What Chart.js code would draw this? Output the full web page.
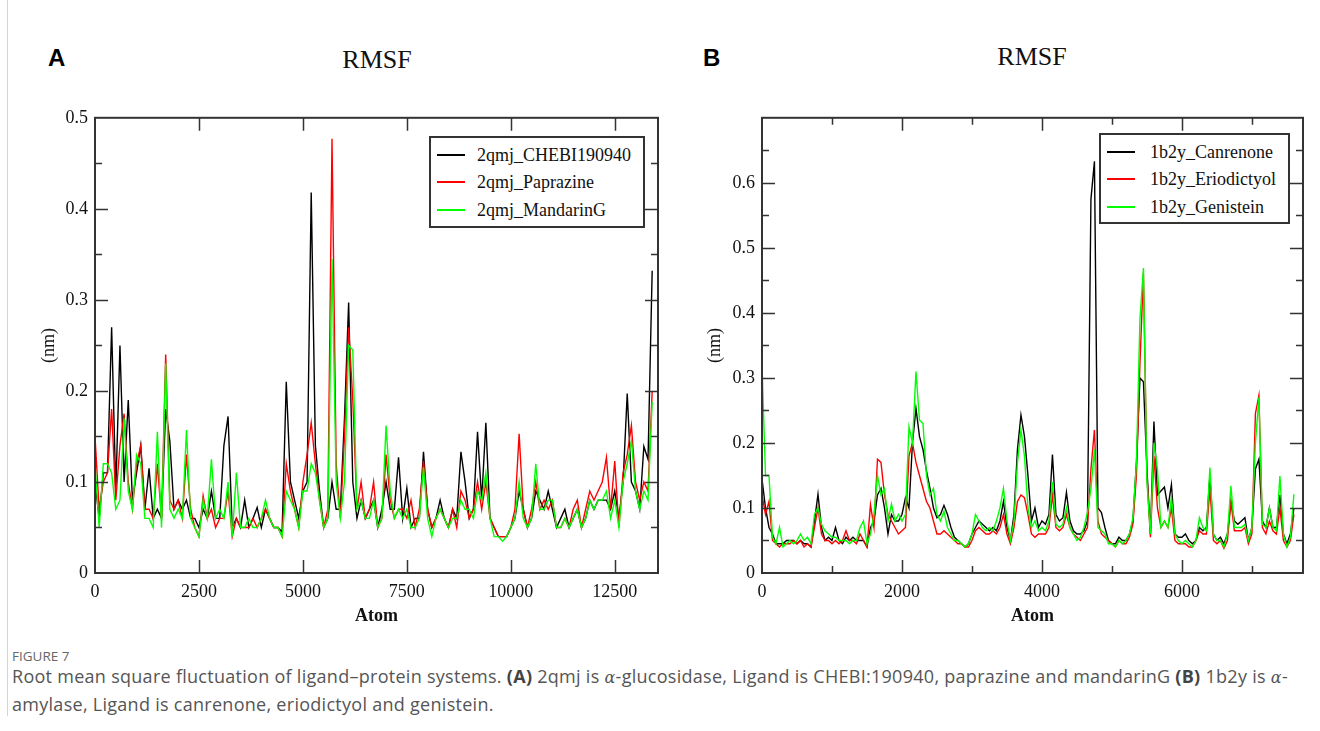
<!DOCTYPE html>
<html>
<head>
<meta charset="utf-8">
<script src="https://cdn.jsdelivr.net/npm/chart.js@4.4.0/dist/chart.umd.min.js"></script>
<style>
  body { margin: 0; background: #fff; }
  #page { position: relative; width: 1320px; height: 731px; overflow: hidden; background: #fff; font-family: "Liberation Serif", "Times New Roman", serif; }
  .rule { position: absolute; left: 7px; top: 0; width: 1px; height: 716px; background: #d4d4d4; }
  .letter { position: absolute; font: bold 24px "Liberation Sans", Arial, sans-serif; line-height: 24px; color: #000; }
  .title { position: absolute; width: 200px; text-align: center; font-size: 26px; line-height: 26px; color: #111; }
  canvas { position: absolute; }
  .legend { position: absolute; border: 2px solid #333; background: #fff; box-sizing: border-box; }
  .legend .row { position: absolute; left: 0; height: 20px; line-height: 20px; font-size: 18px; white-space: nowrap; color: #111; }
  .legend .swatch { position: absolute; left: 6px; top: 9px; width: 28px; height: 2px; }
  .legend .label { position: absolute; top: 0; }
  .fig { position: absolute; font: 13.5px "Open Sans", sans-serif; line-height: 14px; color: #666; }
  .cap { position: absolute; font: 18px "Open Sans", sans-serif; line-height: 27px; color: #555; white-space: nowrap; letter-spacing: 0.28px; }
  .cap b { color: #444; }
  .cap i { font-family: "DejaVu Serif", serif; font-size: 16px; }
</style>
</head>
<body>
<div id="page">
  <div class="rule"></div>

  <div class="letter" style="left:48px; top:46px;">A</div>
  <div class="title" style="left:277px; top:47px;">RMSF</div>
  <canvas id="chartA" width="680" height="540" style="left:0; top:100px;"></canvas>
  <div class="legend" style="left:429px; top:136px; width:216px; height:92px;">
    <div class="row" style="top:7px;"><span class="swatch" style="background:#000;"></span><span class="label" style="left:46px;">2qmj_CHEBI190940</span></div>
    <div class="row" style="top:34px;"><span class="swatch" style="background:#ff0000;"></span><span class="label" style="left:46px;">2qmj_Paprazine</span></div>
    <div class="row" style="top:62px;"><span class="swatch" style="background:#00ff00;"></span><span class="label" style="left:46px;">2qmj_MandarinG</span></div>
  </div>

  <div class="letter" style="left:703px; top:46px;">B</div>
  <div class="title" style="left:932px; top:44px;">RMSF</div>
  <canvas id="chartB" width="640" height="540" style="left:680px; top:100px;"></canvas>
  <div class="legend" style="left:1099px; top:133px; width:191px; height:91px;">
    <div class="row" style="top:7px;"><span class="swatch" style="background:#000;"></span><span class="label" style="left:49px;">1b2y_Canrenone</span></div>
    <div class="row" style="top:34px;"><span class="swatch" style="background:#ff0000;"></span><span class="label" style="left:49px;">1b2y_Eriodictyol</span></div>
    <div class="row" style="top:62px;"><span class="swatch" style="background:#00ff00;"></span><span class="label" style="left:49px;">1b2y_Genistein</span></div>
  </div>

  <div class="fig" style="left:12px; top:649px;">FIGURE 7</div>
  <div class="cap" style="left:12px; top:663px;">Root mean square fluctuation of ligand–protein systems. <b>(A)</b> 2qmj is <i>α</i>-glucosidase, Ligand is CHEBI:190940, paprazine and mandarinG <b>(B)</b> 1b2y is <i>α</i>-<br>amylase, Ligand is canrenone, eriodictyol and genistein.</div>
</div>

<script>
// Panel A: 2qmj RMSF (nm), one value every 100 atoms, starting at atom 0
const stepA = 100;
const chebi190940 = [
  0.10, 0.06, 0.11, 0.11, 0.27, 0.09, 0.25, 0.10, 0.19, 0.08,
  0.11, 0.14, 0.07, 0.115, 0.06, 0.07, 0.06, 0.18, 0.145, 0.07,
  0.08, 0.07, 0.08, 0.06, 0.06, 0.05, 0.07, 0.06, 0.09, 0.06,
  0.06, 0.14, 0.172, 0.05, 0.06, 0.05, 0.08, 0.05, 0.06, 0.072,
  0.05, 0.07, 0.06, 0.05, 0.05, 0.045, 0.21, 0.10, 0.08, 0.06,
  0.09, 0.10, 0.418, 0.14, 0.09, 0.05, 0.06, 0.10, 0.07, 0.07,
  0.17, 0.297, 0.10, 0.06, 0.08, 0.06, 0.07, 0.08, 0.05, 0.07,
  0.10, 0.07, 0.07, 0.127, 0.06, 0.093, 0.05, 0.06, 0.06, 0.133,
  0.07, 0.05, 0.06, 0.08, 0.06, 0.05, 0.07, 0.06, 0.133, 0.10,
  0.06, 0.07, 0.155, 0.08, 0.165, 0.06, 0.05, 0.04, 0.04, 0.04,
  0.05, 0.06, 0.09, 0.07, 0.05, 0.06, 0.09, 0.08, 0.07, 0.09,
  0.07, 0.05, 0.06, 0.07, 0.05, 0.06, 0.07, 0.05, 0.06, 0.08,
  0.07, 0.08, 0.08, 0.08, 0.07, 0.09, 0.06, 0.10, 0.197, 0.10,
  0.09, 0.07, 0.139, 0.125, 0.332
];
const paprazine = [
  0.15, 0.07, 0.10, 0.11, 0.18, 0.08, 0.14, 0.175, 0.10, 0.07,
  0.12, 0.14, 0.07, 0.07, 0.06, 0.12, 0.06, 0.24, 0.08, 0.07,
  0.08, 0.06, 0.13, 0.07, 0.05, 0.04, 0.085, 0.06, 0.07, 0.05,
  0.06, 0.06, 0.09, 0.04, 0.06, 0.05, 0.05, 0.05, 0.06, 0.05,
  0.06, 0.07, 0.06, 0.05, 0.05, 0.04, 0.12, 0.09, 0.07, 0.05,
  0.10, 0.13, 0.165, 0.12, 0.08, 0.05, 0.07, 0.477, 0.12, 0.06,
  0.15, 0.27, 0.19, 0.07, 0.10, 0.06, 0.07, 0.10, 0.05, 0.06,
  0.13, 0.08, 0.06, 0.07, 0.07, 0.06, 0.08, 0.05, 0.07, 0.123,
  0.07, 0.05, 0.06, 0.07, 0.06, 0.05, 0.07, 0.05, 0.09, 0.08,
  0.06, 0.07, 0.10, 0.07, 0.10, 0.06, 0.05, 0.04, 0.04, 0.04,
  0.05, 0.07, 0.153, 0.07, 0.05, 0.07, 0.10, 0.07, 0.08, 0.07,
  0.08, 0.05, 0.05, 0.06, 0.05, 0.07, 0.08, 0.05, 0.07, 0.09,
  0.08, 0.09, 0.10, 0.127, 0.07, 0.123, 0.05, 0.11, 0.13, 0.162,
  0.10, 0.08, 0.10, 0.09, 0.20
];
const mandarinG = [
  0.12, 0.05, 0.12, 0.12, 0.11, 0.07, 0.08, 0.17, 0.09, 0.07,
  0.13, 0.12, 0.06, 0.06, 0.05, 0.155, 0.05, 0.23, 0.07, 0.06,
  0.07, 0.06, 0.157, 0.06, 0.05, 0.04, 0.08, 0.06, 0.125, 0.06,
  0.07, 0.06, 0.10, 0.04, 0.11, 0.05, 0.05, 0.06, 0.05, 0.05,
  0.06, 0.08, 0.06, 0.05, 0.05, 0.04, 0.09, 0.08, 0.07, 0.05,
  0.09, 0.09, 0.12, 0.11, 0.08, 0.05, 0.06, 0.345, 0.10, 0.06,
  0.10, 0.25, 0.245, 0.07, 0.08, 0.06, 0.06, 0.08, 0.05, 0.06,
  0.162, 0.09, 0.06, 0.07, 0.06, 0.07, 0.05, 0.05, 0.06, 0.116,
  0.06, 0.04, 0.06, 0.07, 0.06, 0.05, 0.06, 0.06, 0.08, 0.07,
  0.07, 0.06, 0.09, 0.08, 0.11, 0.06, 0.04, 0.04, 0.035, 0.04,
  0.05, 0.06, 0.10, 0.06, 0.05, 0.06, 0.12, 0.07, 0.07, 0.08,
  0.08, 0.05, 0.05, 0.06, 0.05, 0.06, 0.07, 0.05, 0.06, 0.08,
  0.07, 0.08, 0.08, 0.09, 0.06, 0.08, 0.05, 0.10, 0.12, 0.145,
  0.09, 0.07, 0.09, 0.08, 0.188
];

// Panel B: 1b2y RMSF (nm), one value every 50 atoms, starting at atom 0
const stepB = 50;
const canrenone = [
  0.145, 0.10, 0.07, 0.06, 0.045, 0.045, 0.045, 0.05, 0.05, 0.05,
  0.045, 0.05, 0.045, 0.045, 0.04, 0.08, 0.121, 0.07, 0.05, 0.055,
  0.05, 0.07, 0.05, 0.045, 0.055, 0.05, 0.055, 0.05, 0.05, 0.05,
  0.04, 0.07, 0.08, 0.12, 0.13, 0.10, 0.06, 0.09, 0.08, 0.08,
  0.09, 0.116, 0.10, 0.20, 0.253, 0.21, 0.19, 0.157, 0.13, 0.10,
  0.085, 0.09, 0.104, 0.09, 0.07, 0.055, 0.05, 0.045, 0.04, 0.045,
  0.06, 0.07, 0.08, 0.075, 0.07, 0.065, 0.07, 0.065, 0.08, 0.11,
  0.07, 0.05, 0.09, 0.19, 0.243, 0.21, 0.15, 0.08, 0.10, 0.07,
  0.08, 0.075, 0.09, 0.182, 0.09, 0.08, 0.085, 0.124, 0.08, 0.065,
  0.06, 0.06, 0.065, 0.08, 0.575, 0.633, 0.10, 0.093, 0.07, 0.05,
  0.045, 0.045, 0.055, 0.05, 0.05, 0.06, 0.08, 0.17, 0.30, 0.294,
  0.16, 0.06, 0.233, 0.12, 0.126, 0.132, 0.10, 0.136, 0.06, 0.055,
  0.055, 0.06, 0.05, 0.045, 0.05, 0.07, 0.065, 0.07, 0.15, 0.06,
  0.05, 0.055, 0.045, 0.06, 0.11, 0.08, 0.075, 0.08, 0.085, 0.05,
  0.07, 0.16, 0.175, 0.08, 0.07, 0.10, 0.07, 0.07, 0.12, 0.06,
  0.045, 0.06, 0.10
];
const eriodictyol = [
  0.12, 0.09, 0.11, 0.05, 0.045, 0.04, 0.045, 0.045, 0.045, 0.05,
  0.045, 0.05, 0.04, 0.045, 0.04, 0.07, 0.10, 0.06, 0.05, 0.05,
  0.045, 0.05, 0.045, 0.05, 0.065, 0.05, 0.05, 0.045, 0.06, 0.05,
  0.04, 0.105, 0.07, 0.175, 0.17, 0.12, 0.09, 0.08, 0.07, 0.06,
  0.065, 0.07, 0.18, 0.20, 0.17, 0.15, 0.13, 0.11, 0.10, 0.08,
  0.06, 0.06, 0.065, 0.06, 0.055, 0.05, 0.045, 0.045, 0.04, 0.04,
  0.05, 0.065, 0.07, 0.065, 0.06, 0.06, 0.065, 0.06, 0.07, 0.09,
  0.06, 0.045, 0.07, 0.11, 0.12, 0.116, 0.09, 0.06, 0.055, 0.06,
  0.06, 0.06, 0.07, 0.12, 0.07, 0.065, 0.07, 0.09, 0.07, 0.06,
  0.055, 0.05, 0.06, 0.07, 0.16, 0.22, 0.08, 0.06, 0.055, 0.05,
  0.045, 0.04, 0.05, 0.045, 0.045, 0.055, 0.075, 0.15, 0.322, 0.46,
  0.15, 0.055, 0.18, 0.10, 0.07, 0.08, 0.07, 0.10, 0.05, 0.045,
  0.045, 0.045, 0.04, 0.04, 0.05, 0.065, 0.06, 0.06, 0.13, 0.05,
  0.045, 0.05, 0.038, 0.05, 0.11, 0.065, 0.065, 0.065, 0.07, 0.045,
  0.06, 0.245, 0.273, 0.07, 0.06, 0.08, 0.065, 0.06, 0.10, 0.05,
  0.04, 0.05, 0.09
];
const genistein = [
  0.32, 0.15, 0.15, 0.055, 0.045, 0.07, 0.04, 0.045, 0.05, 0.045,
  0.05, 0.06, 0.05, 0.055, 0.045, 0.09, 0.10, 0.075, 0.065, 0.06,
  0.055, 0.055, 0.05, 0.05, 0.05, 0.045, 0.05, 0.05, 0.07, 0.08,
  0.045, 0.06, 0.09, 0.15, 0.12, 0.13, 0.08, 0.106, 0.08, 0.09,
  0.08, 0.09, 0.225, 0.20, 0.31, 0.235, 0.23, 0.15, 0.12, 0.13,
  0.09, 0.08, 0.095, 0.07, 0.06, 0.05, 0.05, 0.045, 0.04, 0.045,
  0.06, 0.09, 0.08, 0.07, 0.065, 0.07, 0.065, 0.08, 0.10, 0.13,
  0.08, 0.05, 0.08, 0.17, 0.22, 0.18, 0.10, 0.07, 0.08, 0.065,
  0.07, 0.065, 0.08, 0.14, 0.075, 0.07, 0.075, 0.10, 0.07, 0.06,
  0.05, 0.055, 0.07, 0.093, 0.13, 0.19, 0.07, 0.065, 0.06, 0.045,
  0.045, 0.04, 0.05, 0.045, 0.05, 0.06, 0.085, 0.17, 0.39, 0.469,
  0.14, 0.06, 0.20, 0.16, 0.07, 0.08, 0.07, 0.116, 0.06, 0.05,
  0.045, 0.05, 0.045, 0.04, 0.05, 0.085, 0.07, 0.065, 0.162, 0.06,
  0.05, 0.05, 0.04, 0.06, 0.134, 0.07, 0.07, 0.07, 0.075, 0.05,
  0.07, 0.20, 0.27, 0.075, 0.07, 0.10, 0.07, 0.065, 0.149, 0.06,
  0.04, 0.055, 0.121
];

const serif = 'Liberation Serif';

// xmgrace style frame: box all round, ticks pointing inwards on every side
const innerTicks = {
  id: 'innerTicks',
  afterDraw(chart, args, o) {
    const { ctx, chartArea: a } = chart;
    const x = chart.scales.x, y = chart.scales.y;
    ctx.save();
    ctx.strokeStyle = '#333';
    ctx.lineWidth = 1.5;
    ctx.beginPath();
    const xRatio = Math.round(o.xMajor / o.xMinor);
    const nx = Math.floor(x.max / o.xMinor + 1e-9);
    for (let k = 1; k <= nx; k++) {
      const px = Math.round(x.getPixelForValue(k * o.xMinor)) + 0.5;
      if (px > a.right - 3) continue;
      const len = k % xRatio === 0 ? 13 : 7;
      ctx.moveTo(px, a.bottom); ctx.lineTo(px, a.bottom - len);
      ctx.moveTo(px, a.top); ctx.lineTo(px, a.top + len);
    }
    const yRatio = Math.round(o.yMajor / o.yMinor);
    const ny = Math.round(y.max / o.yMinor);
    for (let k = 1; k < ny; k++) {
      const py = Math.round(y.getPixelForValue(k * o.yMinor)) + 0.5;
      const len = k % yRatio === 0 ? 13 : 7;
      ctx.moveTo(a.left, py); ctx.lineTo(a.left + len, py);
      ctx.moveTo(a.right, py); ctx.lineTo(a.right - len, py);
    }
    ctx.stroke();
    ctx.lineWidth = 2;
    ctx.strokeRect(a.left, a.top, a.right - a.left, a.bottom - a.top);
    ctx.restore();
  }
};

function toPoints(values, step) {
  return values.map((v, i) => ({ x: i * step, y: v }));
}

function makeChart(id, series, step, ax) {
  return new Chart(document.getElementById(id), {
    type: 'line',
    data: {
      datasets: series.map(s => ({
        label: s.label,
        data: toPoints(s.values, step),
        borderColor: s.color,
        borderWidth: 1.4,
        pointRadius: 0,
        tension: 0,
        order: s.order
      }))
    },
    options: {
      responsive: false,
      animation: false,
      devicePixelRatio: 1,
      layout: { padding: ax.pad },
      plugins: {
        legend: { display: false },
        tooltip: { enabled: false },
        innerTicks: ax
      },
      scales: {
        x: {
          type: 'linear',
          min: 0,
          max: ax.xMax,
          grid: { display: false, drawTicks: false },
          border: { display: false },
          ticks: {
            padding: 8,
            maxRotation: 0,
            autoSkip: false,
            color: '#111',
            font: { family: serif, size: 18 },
            callback: v => String(v)
          },
          afterBuildTicks: s => {
            const t = [];
            for (let k = 0; k * ax.xMajor <= ax.xMax; k++) t.push({ value: k * ax.xMajor });
            s.ticks = t;
          },
          title: {
            display: true,
            text: 'Atom',
            color: '#111',
            font: { family: serif, size: 18, weight: 'bold' },
            padding: { top: 0, bottom: 13 }
          },
          afterFit: s => { s.height = 67; }
        },
        y: {
          min: 0,
          max: ax.yMax,
          grid: { display: false, drawTicks: false },
          border: { display: false },
          ticks: {
            stepSize: ax.yMajor,
            padding: 7,
            color: '#111',
            font: { family: serif, size: 18 },
            callback: v => v > ax.yLabelMax + 1e-6 ? '' : String(Math.round(v * 10) / 10)
          },
          title: {
            display: true,
            text: '(nm)',
            color: '#111',
            font: { family: serif, size: 18 },
            padding: { top: ax.yTitlePad, bottom: 0 }
          },
          afterFit: s => { s.width = ax.yWidth; }
        }
      }
    },
    plugins: [innerTicks]
  });
}

makeChart('chartA', [
  { label: '2qmj_CHEBI190940', values: chebi190940, color: '#000000', order: 3 },
  { label: '2qmj_Paprazine', values: paprazine, color: '#ff0000', order: 2 },
  { label: '2qmj_MandarinG', values: mandarinG, color: '#00ff00', order: 1 }
], stepA, {
  pad: { left: 0, top: 16, right: 22, bottom: 0 },
  yWidth: 95, yTitlePad: 38,
  xMax: 13540, xMajor: 2500, xMinor: 2500,
  yMax: 0.5, yMajor: 0.1, yMinor: 0.05, yLabelMax: 0.5
});

makeChart('chartB', [
  { label: '1b2y_Canrenone', values: canrenone, color: '#000000', order: 3 },
  { label: '1b2y_Eriodictyol', values: eriodictyol, color: '#ff0000', order: 2 },
  { label: '1b2y_Genistein', values: genistein, color: '#00ff00', order: 1 }
], stepB, {
  pad: { left: 0, top: 14, right: 17, bottom: 0 },
  yWidth: 82, yTitlePad: 24,
  xMax: 7730, xMajor: 2000, xMinor: 1000,
  yMax: 0.7, yMajor: 0.1, yMinor: 0.05, yLabelMax: 0.6
});
</script>
</body>
</html>
